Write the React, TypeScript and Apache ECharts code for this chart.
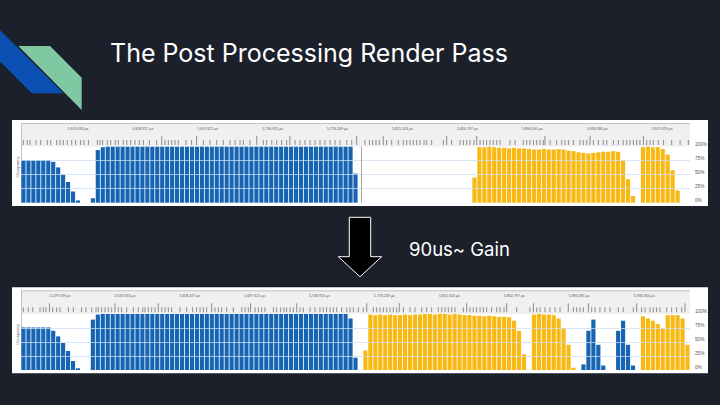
import React, { useEffect, useRef } from "react";
import * as echarts from "echarts";

// ---------- texts ----------
const TITLE = "The Post Processing Render Pass";
const GAIN_LABEL = "90us~ Gain";
const Y_NAME = "Occupancy";

// ---------- sampling ----------
const SAMPLE_STEP = 3; // µs per occupancy sample
const WINDOW = 405; // µs shown in each capture
const P1_START = 5584.6;
const P2_START = 5556.2;

// ---------- ruler labels (µs) ----------
const P1_TIME_LABELS = [5619.033, 5658.327, 5697.621, 5736.915, 5776.209, 5815.503, 5854.797, 5894.091, 5933.384, 5972.679];
const P2_TIME_LABELS = [5579.739, 5619.033, 5658.327, 5697.621, 5736.915, 5776.209, 5815.503, 5854.797, 5894.091, 5933.384];

// ---------- capture 1 (before) ----------
const P1_BLUE = [
  76, 76, 76, 76, 76, 76, 73, 63, 50, 37,
  20, 4, 0, 0, 8, 94, 99, 100, 100, 100,
  100, 100, 100, 100, 100, 100, 100, 100, 100, 100,
  100, 100, 100, 100, 100, 100, 100, 100, 100, 100,
  100, 100, 100, 100, 100, 100, 100, 100, 100, 100,
  100, 100, 100, 100, 100, 100, 100, 100, 100, 100,
  100, 100, 100, 100, 100, 100, 100, 52, 0, 0,
  0, 0, 0, 0, 0, 0, 0, 0, 0, 0,
  0, 0, 0, 0, 0, 0, 0, 0, 0, 0,
  0, 0, 0, 0, 0, 0, 0, 0, 0, 0,
  0, 0, 0, 0, 0, 0, 0, 0, 0, 0,
  0, 0, 0, 0, 0, 0, 0, 0, 0, 0,
  0, 0, 0, 0, 0, 0, 0, 0, 0, 0,
  0, 0, 0, 0, 0,
];
const P1_YELLOW = [
  0, 0, 0, 0, 0, 0, 0, 0, 0, 0,
  0, 0, 0, 0, 0, 0, 0, 0, 0, 0,
  0, 0, 0, 0, 0, 0, 0, 0, 0, 0,
  0, 0, 0, 0, 0, 0, 0, 0, 0, 0,
  0, 0, 0, 0, 0, 0, 0, 0, 0, 0,
  0, 0, 0, 0, 0, 0, 0, 0, 0, 0,
  0, 0, 0, 0, 0, 0, 0, 0, 0, 0,
  0, 0, 0, 0, 0, 0, 0, 0, 0, 0,
  0, 0, 0, 0, 0, 0, 0, 0, 0, 0,
  0, 45, 99, 99, 100, 99, 98, 98, 97, 98,
  97, 97, 96, 95, 95, 96, 95, 95, 96, 95,
  93, 92, 90, 89, 88, 89, 90, 91, 91, 92,
  91, 75, 42, 12, 0, 99, 100, 99, 99, 96,
  86, 58, 22, 0, 0,
];
const P1_MARKER = 5790.7;
const P1_TICKS = [5586.0, 5588.4, 5590.1, 5593.7, 5596.5, 5600.5, 5602.6, 5606.2, 5608.2, 5610.2, 5612.6, 5615.3, 5617.7, 5620.7, 5622.7, 5625.4, 5630.8, 5632.4, 5634.0, 5636.9, 5638.9, 5641.7, 5643.5, 5646.5, 5648.6, 5651.0, 5653.6, 5656.2, 5658.7, 5662.3, 5666.7, 5671.8, 5673.8, 5675.8, 5677.8, 5679.8, 5684.5, 5687.9, 5695.0, 5699.0, 5703.1, 5707.1, 5711.1, 5714.2, 5717.2, 5719.2, 5723.2, 5731.3, 5733.3, 5736.4, 5739.4, 5742.4, 5745.4, 5750.5, 5753.5, 5756.5, 5759.6, 5762.6, 5765.6, 5768.6, 5771.7, 5774.7, 5777.7, 5781.8, 5784.8, 5792.8, 5795.5, 5797.5, 5799.5, 5801.5, 5805.9, 5809.0, 5813.0, 5816.1, 5818.1, 5820.1, 5822.1, 5824.1, 5826.1, 5828.6, 5830.2, 5833.2, 5840.3, 5845.3, 5850.4, 5852.4, 5854.4, 5856.4, 5858.8, 5862.5, 5864.5, 5866.5, 5868.5, 5870.5, 5872.6, 5874.6, 5880.6, 5883.7, 5888.7, 5890.7, 5892.7, 5894.8, 5896.8, 5898.8, 5900.8, 5904.9, 5908.9, 5911.9, 5913.9, 5916.0, 5919.0, 5923.0, 5925.0, 5927.1, 5931.1, 5934.1, 5937.1, 5939.2, 5943.2, 5946.2, 5949.2, 5951.3, 5953.3, 5955.3, 5957.3, 5959.3, 5963.4, 5965.4, 5967.4, 5970.4, 5973.5, 5978.5, 5983.6, 5988.6];
const P1_TALL = [5669.8, 5690.9, 5727.3, 5747.4, 5787.8, 5803.9, 5842.3, 5860.5, 5901.8, 5929.1, 5961.4];

// ---------- capture 2 (after) ----------
const P2_BLUE = [
  76, 76, 76, 76, 76, 76, 70, 60, 48, 34,
  16, 3, 0, 0, 90, 99, 100, 100, 100, 100,
  100, 100, 100, 100, 100, 100, 100, 100, 100, 100,
  100, 100, 100, 100, 100, 100, 100, 100, 100, 100,
  100, 100, 100, 100, 100, 100, 100, 100, 100, 100,
  100, 100, 100, 100, 100, 100, 100, 100, 100, 100,
  100, 100, 100, 100, 100, 100, 92, 22, 0, 0,
  0, 0, 0, 0, 0, 0, 0, 0, 0, 0,
  0, 0, 0, 0, 0, 0, 0, 0, 0, 0,
  0, 0, 0, 0, 0, 0, 0, 0, 0, 0,
  0, 0, 0, 0, 0, 0, 0, 0, 0, 0,
  0, 0, 0, 10, 70, 90, 45, 8, 0, 0,
  70, 88, 45, 8, 0, 0, 0, 0, 0, 0,
  0, 0, 0, 0, 0,
];
const P2_YELLOW = [
  0, 0, 0, 0, 0, 0, 0, 0, 0, 0,
  0, 0, 0, 0, 0, 0, 0, 0, 0, 0,
  0, 0, 0, 0, 0, 0, 0, 0, 0, 0,
  0, 0, 0, 0, 0, 0, 0, 0, 0, 0,
  0, 0, 0, 0, 0, 0, 0, 0, 0, 0,
  0, 0, 0, 0, 0, 0, 0, 0, 0, 0,
  0, 0, 0, 0, 0, 0, 0, 0, 0, 35,
  99, 98, 99, 98, 99, 98, 98, 99, 98, 99,
  99, 100, 100, 99, 100, 100, 99, 100, 99, 98,
  98, 97, 97, 96, 97, 96, 95, 95, 94, 88,
  70, 28, 0, 99, 100, 99, 99, 98, 92, 75,
  45, 4, 0, 0, 0, 0, 0, 0, 0, 0,
  0, 0, 0, 0, 0, 96, 92, 88, 82, 74,
  98, 98, 98, 92, 45,
];
const P2_TICKS = [5557.6, 5560.6, 5563.3, 5567.7, 5569.7, 5571.3, 5575.4, 5577.8, 5579.8, 5584.9, 5587.9, 5592.9, 5595.5, 5599.0, 5601.6, 5603.0, 5605.0, 5607.1, 5609.1, 5611.1, 5615.1, 5617.1, 5620.2, 5624.2, 5627.2, 5629.9, 5631.3, 5633.3, 5635.3, 5637.3, 5641.4, 5643.4, 5645.4, 5647.4, 5652.5, 5656.5, 5660.1, 5662.5, 5664.6, 5666.6, 5668.6, 5673.6, 5675.7, 5677.7, 5680.7, 5684.7, 5689.8, 5691.8, 5693.8, 5697.9, 5699.9, 5701.9, 5703.9, 5709.0, 5711.0, 5713.4, 5715.4, 5717.0, 5719.1, 5721.1, 5725.1, 5727.1, 5731.2, 5734.2, 5737.2, 5739.2, 5741.2, 5743.3, 5745.3, 5747.3, 5750.3, 5753.4, 5755.4, 5757.4, 5760.4, 5763.4, 5769.5, 5771.5, 5773.5, 5775.5, 5777.6, 5779.6, 5781.6, 5783.6, 5787.7, 5791.7, 5794.7, 5798.8, 5801.8, 5804.8, 5808.8, 5810.9, 5812.9, 5814.9, 5816.9, 5818.9, 5824.0, 5828.0, 5830.0, 5832.0, 5834.1, 5836.1, 5838.1, 5841.1, 5844.2, 5846.2, 5848.6, 5856.3, 5864.3, 5868.4, 5870.4, 5873.4, 5876.4, 5879.5, 5882.5, 5890.6, 5892.6, 5894.6, 5896.6, 5901.7, 5903.7, 5906.7, 5909.7, 5912.8, 5917.8, 5920.8, 5926.9, 5931.9, 5934.0, 5937.0, 5939.0, 5941.0, 5943.0, 5947.1, 5950.1, 5953.1, 5956.2];
const P2_TALL = [5573.4, 5613.1, 5639.3, 5671.6, 5695.2, 5723.1, 5765.5, 5785.2, 5826.0, 5850.2, 5866.4, 5887.5, 5899.7, 5928.9, 5958.2];

// ---------- style ----------
const BG = "#1c202b";
const BLUE = "#1664b4";
const YELLOW = "#f9b914";
const TICK_GRAY = "#8c8c8c";
const LABEL_GRAY = "#555555";
const PANEL_FONT = "Liberation Sans";

const fmtTime = (v: number) =>
  v.toLocaleString("en-US", { minimumFractionDigits: 3, maximumFractionDigits: 3 }) + " \u00b5s";

const toBars = (arr: number[], start: number) => arr.map((v, i) => [start + (i + 0.5) * SAMPLE_STEP, v]);
const toTicks = (short: number[], tall: number[]) => [
  ...short.map((t) => [t, 0.55]),
  ...tall.map((t) => [t, 1]),
];

function panelGraphics(dy: number) {
  return [
    { type: "rect", z: -3, shape: { x: 12, y: 120 + dy, width: 696, height: 86 }, style: { fill: "#ffffff" } },
    { type: "rect", z: -2, shape: { x: 21, y: 123 + dy, width: 669, height: 23.7 }, style: { fill: "#f0f0f0" } },
    { type: "line", z: -1, shape: { x1: 21, y1: 123.5 + dy, x2: 690, y2: 123.5 + dy }, style: { stroke: "#c2c2c2", lineWidth: 1 } },
    { type: "line", z: -1, shape: { x1: 21.5, y1: 123 + dy, x2: 21.5, y2: 203 + dy }, style: { stroke: "#c2c2c2", lineWidth: 1 } },
    {
      type: "text", z: 10, x: 17, y: 167 + dy, rotation: Math.PI / 2,
      style: { text: Y_NAME, fill: LABEL_GRAY, font: `4.2px "${PANEL_FONT}"`, align: "center", verticalAlign: "middle" },
    },
  ];
}

function buildOption() {
  const panels = [
    { start: P1_START, blue: P1_BLUE, yellow: P1_YELLOW, ticks: P1_TICKS, tall: P1_TALL, labels: P1_TIME_LABELS, barTop: 146.7, tickTop: 136, marker: P1_MARKER },
    { start: P2_START, blue: P2_BLUE, yellow: P2_YELLOW, ticks: P2_TICKS, tall: P2_TALL, labels: P2_TIME_LABELS, barTop: 314.0, tickTop: 303.3, marker: null as number | null },
  ];
  const grid: any[] = [];
  const xAxis: any[] = [];
  const yAxis: any[] = [];
  const series: any[] = [];
  panels.forEach((p, k) => {
    const gBar = k * 2;
    const gTick = k * 2 + 1;
    grid.push({ left: 21, top: p.barTop, width: 669, height: 56, outerBoundsMode: "none" });
    grid.push({ left: 21, top: p.tickTop, width: 669, height: 9, outerBoundsMode: "none" });
    xAxis.push({ gridIndex: gBar, type: "value", min: p.start, max: p.start + WINDOW, show: false });
    xAxis.push({
      gridIndex: gTick, type: "value", min: p.start, max: p.start + WINDOW, position: "top", z: 2,
      axisLine: { show: false }, axisTick: { show: false }, splitLine: { show: false },
      axisLabel: {
        customValues: p.labels, formatter: (v: number) => fmtTime(v),
        fontSize: 3.6, color: LABEL_GRAY, fontFamily: PANEL_FONT, margin: 5,
      },
    });
    yAxis.push({
      gridIndex: gBar, type: "value", min: 0, max: 100, interval: 25, position: "right", z: 3,
      axisLine: { show: false }, axisTick: { show: false },
      splitLine: { show: true, showMinLine: false, showMaxLine: false, lineStyle: { color: "rgba(205,222,242,0.75)", width: 1 } },
      axisLabel: { formatter: "{value}%", fontSize: 4.7, color: LABEL_GRAY, fontFamily: PANEL_FONT, margin: 5, verticalAlign: "bottom" },
    });
    yAxis.push({ gridIndex: gTick, type: "value", min: 0, max: 1, show: false });
    const blueSeries: any = {
      type: "bar", name: "graphics", xAxisIndex: gBar, yAxisIndex: gBar, stack: "occ" + k, barWidth: 4.15,
      itemStyle: { color: BLUE }, data: toBars(p.blue, p.start), silent: true,
    };
    if (p.marker !== null) {
      blueSeries.markLine = {
        silent: true, symbol: "none", label: { show: false },
        lineStyle: { color: "#a8a8a8", width: 1, type: "solid" },
        data: [{ xAxis: p.marker }],
      };
    }
    series.push(blueSeries);
    series.push({
      type: "bar", name: "post", xAxisIndex: gBar, yAxisIndex: gBar, stack: "occ" + k, barWidth: 4.15,
      itemStyle: { color: YELLOW }, data: toBars(p.yellow, p.start), silent: true,
    });
    series.push({
      type: "bar", name: "events", xAxisIndex: gTick, yAxisIndex: gTick, barWidth: 1,
      itemStyle: { color: TICK_GRAY }, data: toTicks(p.ticks, p.tall), silent: true,
    });
  });

  const graphic: any[] = [
    { type: "polygon", z: 1, shape: { points: [[0, 30], [63.3, 93.3], [31.7, 93.3], [0, 61.6]] }, style: { fill: "#0b4fb3" } },
    { type: "polygon", z: 2, shape: { points: [[18.3, 46], [50, 46], [81.7, 77.7], [81.7, 110]] }, style: { fill: "#80c8a2" } },
    { type: "text", z: 10, x: 110, y: 52.5, style: { text: TITLE, fill: "#ffffff", font: '25px Inter', verticalAlign: "middle" } },
    {
      type: "polygon", z: 10,
      shape: { points: [[349.3, 217.3], [370.7, 217.3], [370.7, 256.7], [381.7, 256.7], [360, 276.7], [338.3, 256.7], [349.3, 256.7]] },
      style: { fill: "#000000", stroke: "#ffffff", lineWidth: 1 },
    },
    { type: "text", z: 10, x: 409, y: 248.5, style: { text: GAIN_LABEL, fill: "#ffffff", font: '18.5px Inter', verticalAlign: "middle" } },
    ...panelGraphics(0),
    ...panelGraphics(167.3),
  ];

  return {
    animation: false,
    backgroundColor: BG,
    grid, xAxis, yAxis, series, graphic,
  };
}

export default function App() {
  const ref = useRef<HTMLDivElement>(null);
  useEffect(() => {
    document.body.style.margin = "0";
    document.body.style.background = BG;
    if (!ref.current) return;
    const chart = echarts.init(ref.current, undefined, { renderer: "svg" });
    chart.setOption(buildOption() as any);
    return () => chart.dispose();
  }, []);
  return <div ref={ref} style={{ width: 720, height: 405 }} />;
}
